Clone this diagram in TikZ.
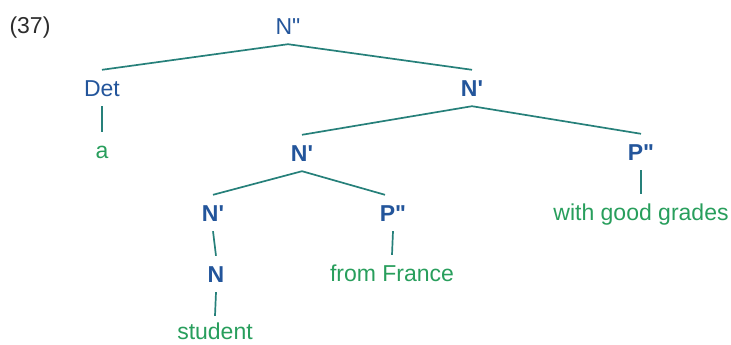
\documentclass[tikz,border=0pt]{standalone}
\usepackage{fontspec}
\newfontfamily\lsans{Liberation Sans}
\definecolor{labblue}{RGB}{35,85,155}
\definecolor{wordgreen}{RGB}{40,158,92}
\definecolor{linkteal}{RGB}{38,128,122}
\definecolor{numgray}{RGB}{45,45,45}
\begin{document}
\begin{tikzpicture}[x=1pt,y=-1pt,
  every node/.style={font=\lsans\fontsize{23}{27}\selectfont, inner sep=0pt, minimum height=36pt, text height=16.5pt, text depth=0pt, anchor=center},
  cat/.style={text=labblue},
  bcat/.style={text=labblue, font=\lsans\fontsize{23}{27}\selectfont\bfseries},
  word/.style={text=wordgreen},
  link/.style={draw=linkteal, line width=1.7pt}]
\useasboundingbox (0,0) rectangle (731,345);
\node[text=numgray] (ex) at (30,25) {(37)};
\node[cat] (Npp) at (288,26) {N"};
\node[cat] (Det) at (102,88) {Det};
\node[word] (a) at (102,150) {a};
\node[bcat] (N1) at (472,88) {N'};
\node[bcat] (N2) at (302,153) {N'};
\node[bcat] (P1) at (641,152) {P"};
\node[word] (wgg) at (641,212) {with good grades};
\node[bcat] (N3) at (213,213) {N'};
\node[bcat] (P2) at (393,213) {P"};
\node[bcat] (N4) at (216,274) {N};
\node[word] (fF) at (392,273) {from France};
\node[word, minimum height=30pt] (stu) at (215,331) {student};
\draw[link] (Npp.south) -- (Det.north);
\draw[link] (Npp.south) -- (N1.north);
\draw[link] (Det.south) -- (a.north);
\draw[link] (N1.south) -- (N2.north);
\draw[link] (N1.south) -- (P1.north);
\draw[link] (P1.south) -- (wgg.north);
\draw[link] (N2.south) -- (N3.north);
\draw[link] (N2.south) -- ([xshift=-8pt]P2.north);
\draw[link] (N3.south) -- (N4.north);
\draw[link] (N4.south) -- (stu.north);
\draw[link] (P2.south) -- (fF.north);
\end{tikzpicture}
\end{document}
